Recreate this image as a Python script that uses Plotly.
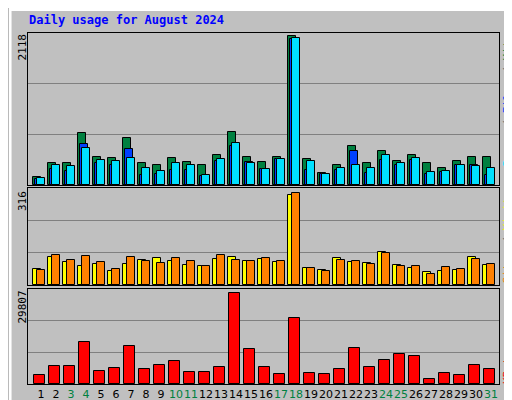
import plotly.graph_objects as go

# Daily usage, August 2024
days = list(range(1, 32))
hits = [120, 307, 307, 738, 393, 379, 666, 307, 292, 379, 321, 278, 422, 752, 393, 321,
        393, 2118, 364, 177, 292, 551, 307, 479, 335, 422, 307, 249, 335, 393, 393]
files = [86, 235, 206, 580, 307, 292, 508, 149, 163, 220, 220, 134, 335, 551, 321, 235,
         364, 2075, 220, 163, 220, 479, 177, 350, 292, 350, 163, 192, 292, 278, 149]
pages = [105, 278, 264, 522, 350, 335, 379, 249, 206, 307, 278, 149, 364, 594, 307, 235,
         364, 2089, 335, 163, 249, 292, 249, 422, 307, 379, 192, 206, 292, 264, 249]
visits = [55, 96, 79, 65, 72, 48, 72, 86, 92, 82, 68, 65, 89, 96, 82, 89,
          79, 308, 58, 51, 92, 79, 75, 113, 68, 58, 44, 48, 51, 96, 68]
sites = [51, 103, 86, 99, 79, 55, 96, 82, 75, 92, 82, 65, 103, 86, 82, 92,
         82, 316, 58, 48, 86, 82, 72, 110, 65, 65, 38, 62, 55, 89, 72]
kbytes = [3046, 5984, 5984, 13818, 4352, 5331, 12512, 5005, 6310, 7616, 4026, 4026, 5658, 29807, 11533, 5658,
          3373, 21651, 3699, 3373, 5005, 11859, 5658, 7942, 9901, 9248, 1741, 3699, 3046, 6310, 5005]
weekend = {3, 4, 10, 11, 17, 18, 24, 25, 31}
tick_text = [f"<span style='color:#008040'>{d}</span>" if d in weekend else str(d) for d in days]

BG = "#c0c0c0"
MONO = "DejaVu Sans Mono"


def shifted(off):
    return [d + off for d in days]


fig = go.Figure()
line = dict(color="black", width=1)
fig.add_trace(go.Bar(x=shifted(-0.267), y=hits, width=0.533, marker=dict(color="#008040", line=line), xaxis="x", yaxis="y"))
fig.add_trace(go.Bar(x=shifted(-0.133), y=files, width=0.533, marker=dict(color="#0040ff", line=line), xaxis="x", yaxis="y"))
fig.add_trace(go.Bar(x=shifted(0), y=pages, width=0.533, marker=dict(color="#00e0ff", line=line), xaxis="x", yaxis="y"))
fig.add_trace(go.Bar(x=shifted(-0.267), y=visits, width=0.533, marker=dict(color="#ffff00", line=line), xaxis="x2", yaxis="y2"))
fig.add_trace(go.Bar(x=shifted(0), y=sites, width=0.533, marker=dict(color="#ff8000", line=line), xaxis="x2", yaxis="y2"))
fig.add_trace(go.Bar(x=shifted(-0.1), y=kbytes, width=0.73, marker=dict(color="#ff0000", line=line), xaxis="x3", yaxis="y3"))

xr = [0.133, 31.533]
xdom = [20 / 512, 491 / 512]
xcommon = dict(range=xr, domain=xdom, showgrid=False, zeroline=False, showline=True,
               linecolor="black", mirror=True, fixedrange=True, automargin=False)


def yax(dom, top):
    return dict(domain=dom, range=[0, top], tickvals=[top / 3, 2 * top / 3], showticklabels=False,
                showgrid=True, gridcolor="#808080", gridwidth=1, zeroline=False, showline=True,
                linecolor="black", mirror=True, ticks="", automargin=False)


top1, top2, top3 = 2165, 332, 31010
fig.update_layout(
    width=512, height=400, margin=dict(l=0, r=0, t=0, b=0, autoexpand=False),
    paper_bgcolor=BG, plot_bgcolor=BG, showlegend=False, barmode="overlay", bargap=0,
    font=dict(family=MONO, size=11, color="black"),
    xaxis=dict(xcommon, anchor="y", showticklabels=False),
    xaxis2=dict(xcommon, anchor="y2", showticklabels=False),
    xaxis3=dict(xcommon, anchor="y3", tickvals=days, ticktext=tick_text, ticks="", tickangle=0,
                tickfont=dict(family="DejaVu Sans", size=11)),
    yaxis=yax([1 - 177 / 400, 1 - 25 / 400], top1),
    yaxis2=yax([1 - 277 / 400, 1 - 180 / 400], top2),
    yaxis3=yax([1 - 376 / 400, 1 - 281 / 400], top3),
)

ann = [
    dict(text="<b>Daily usage for August 2024</b>", x=20 / 512, y=1 - 4 / 400, xanchor="left", yanchor="top",
         font=dict(color="#0000ff", size=12, family=MONO)),
    dict(text="2118", x=14 / 512, y=1 - 25 / 400, yanchor="top", xanchor="center", textangle=-90),
    dict(text="316", x=14 / 512, y=1 - 182 / 400, yanchor="top", xanchor="center", textangle=-90),
    dict(text="29807", x=14 / 512, y=1 - 282 / 400, yanchor="top", xanchor="center", textangle=-90),
    dict(text="<span style='color:#00e0ff'>Pages</span> / <span style='color:#0040ff'>Files</span> / "
              "<span style='color:#008040'>Hits</span>",
         x=499 / 512, y=1 - 25 / 400, yanchor="top", xanchor="center", textangle=-90, font=dict(color="#606060")),
    dict(text="<span style='color:#ff8000'>Sites</span> / <span style='color:#ffff00'>Visits</span>",
         x=499 / 512, y=1 - 277 / 400, yanchor="bottom", xanchor="center", textangle=-90, font=dict(color="#606060")),
    dict(text="<span style='color:#ff0000'>KBytes</span>",
         x=499 / 512, y=1 - 377 / 400, yanchor="bottom", xanchor="center", textangle=-90),
]
for a in ann:
    fig.add_annotation(xref="paper", yref="paper", showarrow=False, borderpad=0, **a)

# outer bevel
fig.add_shape(type="rect", xref="paper", yref="paper", x0=0.002, y0=0.002, x1=0.998, y1=0.998,
              line=dict(color="#808080", width=3))
fig.add_shape(type="path", xref="paper", yref="paper", path="M 0.004 0.004 L 0.004 0.996 L 0.996 0.996",
              line=dict(color="white", width=3))

fig.write_html("out.html")
